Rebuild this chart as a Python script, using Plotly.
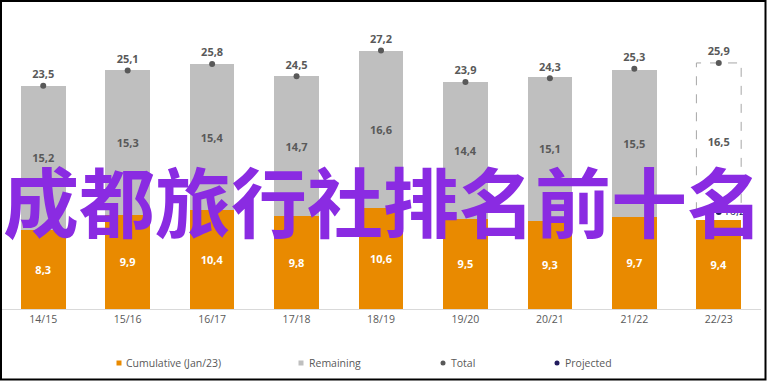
import plotly.graph_objects as go

categories = ["14/15", "15/16", "16/17", "17/18", "18/19", "19/20", "20/21", "21/22", "22/23"]
cumulative = [8.3, 9.9, 10.4, 9.8, 10.6, 9.5, 9.3, 9.7, 9.4]
remaining = [15.2, 15.3, 15.4, 14.7, 16.6, 14.4, 15.1, 15.5, 16.5]
totals = [23.5, 25.1, 25.8, 24.5, 27.2, 23.9, 24.3, 25.3, 25.9]
projected_cat = ["22/23"]
projected = [10.2]
legend_names = ["Cumulative (Jan/23)", "Remaining", "Total", "Projected"]
title_text = "成都旅行社排名前十名"

ORANGE = "#E98A00"
GRAY = "#BFBFBF"
DARK = "#595959"
NAVY = "#221C5E"
PURPLE = "#8A2BE2"
FONT = "Open Sans"
BAR_W = 0.53

last = len(categories) - 1
rem_colors = [GRAY] * last + ["rgba(0,0,0,0)"]

fig = go.Figure()
fig.add_bar(x=categories, y=cumulative, name=legend_names[0], width=BAR_W,
            marker=dict(color=ORANGE, line=dict(width=0)),
            texttemplate="%{y:.1f}", textposition="inside", insidetextanchor="middle",
            textangle=0, constraintext="none",
            textfont=dict(color="white", size=11, family=FONT, weight="bold"))
fig.add_bar(x=categories, y=remaining, name=legend_names[1], width=BAR_W,
            marker=dict(color=rem_colors, line=dict(width=0)),
            texttemplate="%{y:.1f}", textposition="inside", insidetextanchor="middle",
            textangle=0, constraintext="none",
            textfont=dict(color=DARK, size=11, family=FONT, weight="bold"))
fig.add_scatter(x=categories, y=totals, name=legend_names[2], mode="markers+text",
                marker=dict(color=DARK, size=6),
                texttemplate="%{y:.1f}", textposition="top center",
                textfont=dict(color=DARK, size=11, family=FONT, weight="bold"))
fig.add_scatter(x=projected_cat, y=projected, name=legend_names[3], mode="markers+text",
                marker=dict(color=NAVY, size=6),
                texttemplate="%{y:.1f}", textposition="middle right",
                textfont=dict(color=NAVY, size=11, family=FONT))

# dashed outline of the projected (remaining) bar
fig.add_shape(type="rect", xref="x", yref="y",
              x0=last - BAR_W / 2, x1=last + BAR_W / 2,
              y0=projected[0], y1=totals[last],
              line=dict(color="#A6A6A6", width=1, dash="dash"),
              fillcolor="rgba(0,0,0,0)", layer="below")

W, H = 770, 385
L, R, T, B = 1, 9, 24, 76
PW, PH = W - L - R, H - T - B


def px(x):
    return (x - L) / PW


def py(y):
    return (H - B - y) / PH


# manual legend
legend_items = [
    (legend_names[0], 119, "square", ORANGE, 124),
    (legend_names[1], 301, "square", GRAY, 307),
    (legend_names[2], 443, "circle", DARK, 449),
    (legend_names[3], 557, "circle", NAVY, 563),
]
ly = 363
for name, sx, kind, col, tx in legend_items:
    if kind == "square":
        fig.add_shape(type="rect", xref="paper", yref="paper",
                      x0=px(sx - 2.5), x1=px(sx + 2.5), y0=py(ly + 2.5), y1=py(ly - 2.5),
                      fillcolor=col, line=dict(width=0))
    else:
        fig.add_shape(type="circle", xref="paper", yref="paper",
                      x0=px(sx - 2.5), x1=px(sx + 2.5), y0=py(ly + 2.5), y1=py(ly - 2.5),
                      fillcolor=col, line=dict(width=0))
    fig.add_annotation(text=name, xref="paper", yref="paper", x=px(tx), y=py(ly),
                       xanchor="left", yanchor="middle", showarrow=False,
                       font=dict(family=FONT, size=10.5, color=DARK))

# big overlay title
fig.add_annotation(text=title_text, xref="paper", yref="paper", x=px(383), y=py(199),
                   xanchor="center", yanchor="middle", showarrow=False,
                   font=dict(family="Noto Sans CJK SC", size=76, color=PURPLE, weight="bold"))

# outer border
fig.add_shape(type="rect", xref="paper", yref="paper",
              x0=px(1), x1=px(765.5), y0=py(379.5), y1=py(1),
              line=dict(color="black", width=2), fillcolor="rgba(0,0,0,0)")

fig.update_layout(
    width=W, height=H, barmode="stack", showlegend=False,
    margin=dict(l=L, r=R, t=T, b=B),
    plot_bgcolor="white", paper_bgcolor="white",
    separators=",.",
    font=dict(family=FONT, color=DARK),
    xaxis=dict(showgrid=False, showline=True, linecolor="#D9D9D9", linewidth=1,
               ticks="", tickfont=dict(size=10.5, color=DARK, family=FONT)),
    yaxis=dict(range=[0, 30], visible=False, showgrid=False, zeroline=False),
)

fig.write_html("out.html", config={"displayModeBar": False},
               post_script="document.body.style.margin='0px';document.body.style.overflow='hidden';")
